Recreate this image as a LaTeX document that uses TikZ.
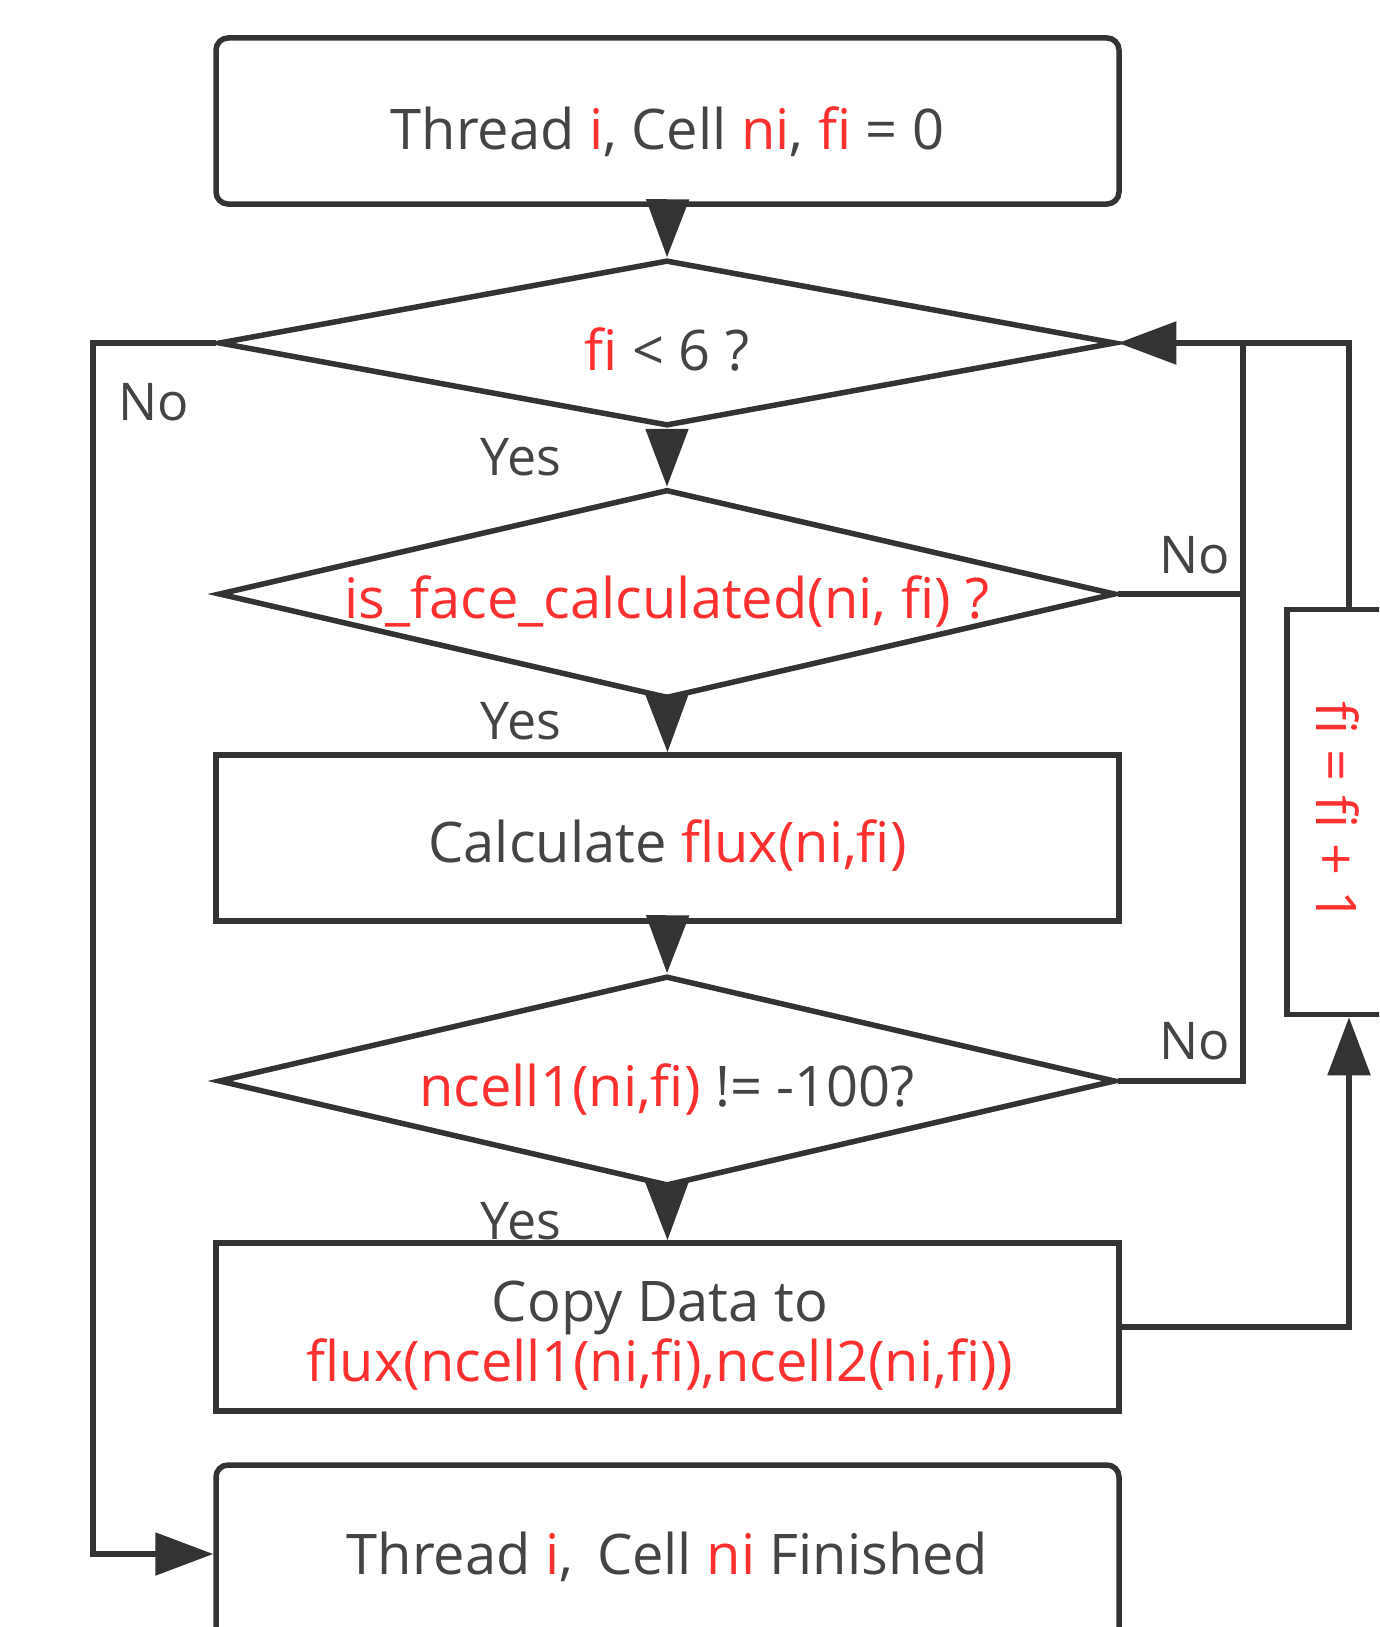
\documentclass[tikz,border=0pt]{standalone}
\usepackage{fontspec}
\setmainfont{Open Sans}
\usetikzlibrary{arrows.meta,shapes.geometric}
\definecolor{ink}{HTML}{333333}
\definecolor{txtgray}{HTML}{444444}
\definecolor{hot}{HTML}{FF3030}
\newcommand{\hot}[1]{\textcolor{hot}{#1}}
\begin{document}
\begin{tikzpicture}[x=1pt,y=-1pt,
  every node/.style={font=\fontsize{56}{60}\selectfont, text=txtgray},
  flowbox/.style={draw=ink, line width=5.5pt, fill=white, inner sep=0pt,
    minimum width=903pt},
  roundbox/.style={flowbox, rounded corners=12pt},
  decision/.style={diamond, draw=ink, line width=5.5pt, inner sep=0pt,
    minimum width=897pt, aspect=5},
  conn/.style={draw=ink, line width=5.5pt},
  arr/.style={conn, -{Triangle[length=58pt,width=42pt]}},
  lbl/.style={inner sep=0pt, font=\fontsize{52}{56}\selectfont}
]
\useasboundingbox (0,0) rectangle (1379,1627);
\clip (0,0) rectangle (1379,1627);

% main column
\node[roundbox, minimum height=166pt] (start) at (667.5,121) {};
\node (starttxt) at (667.5,132) {Thread \hot{i}, Cell \hot{ni}, \hot{fi} = 0};

\node[decision, minimum height=166pt] (d1) at (667,343) {};
\node (d1txt) at (667,349) {\hot{fi} < 6 ?};

\node[decision, minimum height=209pt] (d2) at (667,594) {};
\node (d2txt) at (667,601) {\hot{is\_face\_calculated(ni, fi) ?}};

\node[flowbox, minimum height=166pt] (calc) at (667.5,838) {};
\node (calctxt) at (667.5,845) {Calculate \hot{flux(ni,fi)}};

\node[decision, minimum height=210pt] (d3) at (667,1081) {};
\node (d3txt) at (667,1089) {\hot{ncell1(ni,fi)} != -100?};

\node[flowbox, minimum height=168pt] (copy) at (667.5,1327) {};
\node[align=center] (copytxt) at (660,1336) {Copy Data to\\\hot{flux(ncell1(ni,fi),ncell2(ni,fi))}};

\node[roundbox, minimum height=178pt] (fin) at (667.5,1554) {};
\node (fintxt) at (667.5,1557) {Thread \hot{i},\, Cell \hot{ni} Finished};

% increment box on the right
\node[flowbox, minimum width=124pt, minimum height=405pt] (inc) at (1349,812) {};
\node[rotate=-90] (inctxt) at (1338,812) {\hot{fi = fi + 1}};

% bend points
\coordinate (lbus) at (93,343);
\coordinate (rbus) at (1243,343);

% connectors
\draw[arr] (start.south) -- (d1.north);
\draw[arr] (d1.south) -- (d2.north);
\draw[arr] (d2.south) -- (calc.north);
\draw[arr] (calc.south) -- (d3.north);
\draw[arr] (d3.south) -- (copy.north);
\draw[conn] (d2.east) -| (rbus);
\draw[conn] (d3.east) -| (rbus);
\draw[arr] (copy.east) -| (inc.south);
\draw[arr] (inc.north) |- (d1.east);
\draw[arr] (d1.west) -- (lbus) |- (fin.west);

% branch labels
\node[lbl] (no1) at (154,402) {No};
\node[lbl] (yes1) at (521,457) {Yes};
\node[lbl] (no2) at (1195,555) {No};
\node[lbl] (yes2) at (521,721) {Yes};
\node[lbl] (no3) at (1195,1041) {No};
\node[lbl] (yes3) at (521,1221) {Yes};
\end{tikzpicture}
\end{document}
